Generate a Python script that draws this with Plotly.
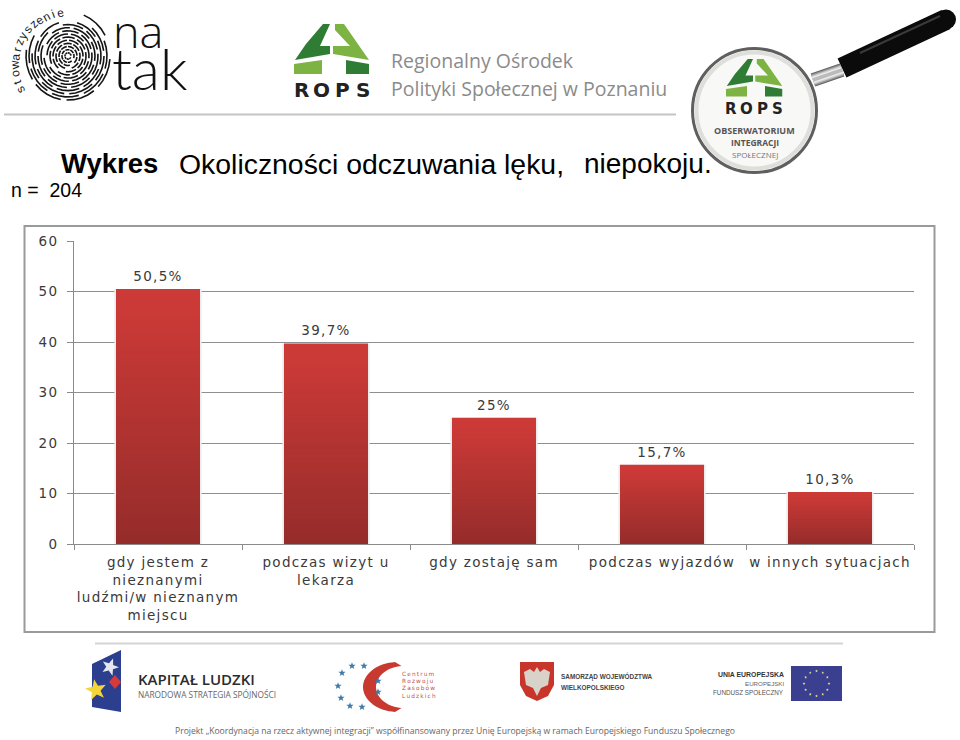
import math
import plotly.graph_objects as go

categories = ["gdy jestem z<br>nieznanymi<br>ludźmi/w nieznanym<br>miejscu", "podczas wizyt u<br>lekarza", "gdy zostaję sam", "podczas wyjazdów", "w innych sytuacjach"]
values = [50.5, 39.7, 25, 15.7, 10.3]
value_labels = ["50,5%", "39,7%", "25%", "15,7%", "10,3%"]
y_ticks = [0, 10, 20, 30, 40, 50, 60]

W, H = 960, 740
def px(x): return x / W
def py(y): return 1 - y / H

def lerp(a, b, t):
    return "#%02x%02x%02x" % tuple(round(a[i] + (b[i] - a[i]) * t) for i in range(3))

fig = go.Figure()
fig.add_bar(x=categories, y=values, width=0.52, marker=dict(color="#ececec", line=dict(width=0)),
            hoverinfo="skip", showlegend=False)
TOP, BOT = (204, 58, 55), (148, 44, 42)
N = 40
for k in range(N):
    frac = 1 - k / N
    t = min(1.0, max(0.0, (1 - frac - 0.05) / 0.95))
    fig.add_bar(x=categories, y=[v * frac for v in values], width=0.5,
                marker=dict(color=lerp(TOP, BOT, t), line=dict(width=0)),
                hoverinfo="skip", showlegend=False)
fig.add_scatter(x=categories, y=values, mode="markers+text", text=value_labels, textposition="top center",
                marker=dict(size=6, color="rgba(0,0,0,0)"), hoverinfo="skip", showlegend=False,
                textfont=dict(family="DejaVu Sans", size=13.5, color="#3a3a3a"))

fig.update_layout(
    width=W, height=H, margin=dict(l=0, r=0, t=0, b=0, autoexpand=False), paper_bgcolor="white", plot_bgcolor="white",
    barmode="overlay", showlegend=False,
    xaxis=dict(domain=[px(74), px(914)], anchor="y", type="category", range=[-0.5, 4.5],
               tickson="boundaries", ticks="outside", ticklen=5, tickcolor="#8a8a8a", showgrid=False,
               showline=True, linecolor="#8a8a8a", linewidth=1, tickangle=0, ticklabelstandoff=6,
               tickfont=dict(family="DejaVu Sans", size=13.5, color="#3a3a3a")),
    yaxis=dict(domain=[py(544), py(241)], anchor="x", range=[0, 60], tickvals=y_ticks, ticks="outside", ticklen=6,
               tickcolor="#8a8a8a", showgrid=True, gridcolor="#8f8f8f", gridwidth=1, showline=True,
               linecolor="#8a8a8a", zeroline=False, ticklabelstandoff=6,
               tickfont=dict(family="DejaVu Sans", size=13.5, color="#3a3a3a")),
)

shapes, ann = [], []
def path(pts, fill=None, line=None, lw=1, close=True, layer="above"):
    d = "M" + " L".join(f"{px(x):.5f},{py(y):.5f}" for x, y in pts) + (" Z" if close else "")
    shapes.append(dict(type="path", xref="paper", yref="paper", path=d, fillcolor=fill or "rgba(0,0,0,0)",
                       line=dict(color=line or "rgba(0,0,0,0)", width=lw if line else 0), layer=layer))
def rect(x0, y0, x1, y1, fill=None, line=None, lw=1):
    shapes.append(dict(type="rect", xref="paper", yref="paper", x0=px(x0), x1=px(x1), y0=py(y0), y1=py(y1),
                       fillcolor=fill or "rgba(0,0,0,0)", line=dict(color=line or "rgba(0,0,0,0)", width=lw if line else 0)))
def circ(cx, cy, r, fill=None, line=None, lw=1):
    shapes.append(dict(type="circle", xref="paper", yref="paper", x0=px(cx - r), x1=px(cx + r), y0=py(cy - r), y1=py(cy + r),
                       fillcolor=fill or "rgba(0,0,0,0)", line=dict(color=line or "rgba(0,0,0,0)", width=lw if line else 0)))
def seg(x0, y0, x1, y1, color, lw):
    shapes.append(dict(type="line", xref="paper", yref="paper", x0=px(x0), x1=px(x1), y0=py(y0), y1=py(y1),
                       line=dict(color=color, width=lw)))
def txt(x, y, s, size, color="black", family="Liberation Sans", anchor="left", angle=0, weight=None):
    f = dict(family=family, size=size, color=color)
    if weight: f["weight"] = weight
    ann.append(dict(xref="paper", yref="paper", x=px(x), y=py(y), text=s, showarrow=False, xanchor=anchor, yanchor="middle",
                    textangle=angle, font=f, align="center", borderpad=0, borderwidth=0))
def star(cx, cy, r, color, rot=-90):
    pts = []
    for i in range(10):
        a = math.radians(rot + 36 * i)
        q = r if i % 2 == 0 else r * 0.42
        pts.append((cx + q * math.cos(a), cy + q * math.sin(a)))
    path(pts, fill=color)

# frames and rules
rect(24.5, 226, 934.5, 632, line="#9a9a9a", lw=2)
seg(4, 114.5, 676, 114.5, "#c4c4c4", 2)
seg(95, 643.5, 843, 643.5, "#d4d4d4", 2)

# titles
txt(61, 164, "<b>Wykres</b>", 27.5)
txt(179, 164, "Okoliczności odczuwania lęku,", 28.4)
txt(584, 164, "niepokoju.", 28)
txt(11, 190, "n =  204", 19.5)

# fingerprint logo
for i in range(1, 15):
    r = i * 3.0
    for g in range(0, 330, 48):
        start = g + i * 26
        if i >= 12 and 180 <= (start % 360) <= 275:
            continue
        pts = [(68 + r * math.cos(math.radians(a)), 56 + r * 1.05 * math.sin(math.radians(a)))
               for a in range(start, start + 42, 10)]
        path(pts, line="#141414", lw=1.6, close=False)
word = "stowarzyszenie"
for i, ch in enumerate(word):
    a = 149 + i * 8.4
    r = 58 - i * 0.77
    ar = math.radians(a)
    txt(70 + r * math.cos(ar), 60 + r * math.sin(ar), ch, 12, "#222222", angle=a + 90, anchor="center")
txt(113, 30, "na", 45, "#111111", "Open Sans", weight=300)
txt(112, 68, "tak", 58, "#111111", "Lato", weight=300)

# ROPS logos
def rops(x, y, s, word_size):
    D, Lt = "#2f7d35", "#7cb342"
    P = lambda pts, c: path([(x + a * s, y + b * s) for a, b in pts], fill=c)
    P([(29, 0), (36, 0), (26, 22), (36, 22), (36, 30), (1, 36), (12, 20)], D)
    P([(41, 0), (50, 0), (75, 36), (39, 30), (39, 22), (56, 22), (41, 6)], Lt)
    P([(0, 40), (28, 36), (28, 50), (0, 50)], Lt)
    P([(52, 36), (75, 40), (75, 50), (52, 50)], D)
    for j, ch in enumerate("ROPS"):
        txt(x + (7 + j * 20.7) * s, y + 66 * s, f"<b>{ch}</b>", word_size, "#222222", "DejaVu Sans", "center")

rops(294, 24, 1.0, 20)
txt(391, 60, "Regionalny Ośrodek", 19.5, "#8b8b8b", "Open Sans")
txt(391, 88, "Polityki Społecznej w Poznaniu", 19.5, "#8b8b8b", "Open Sans")

# magnifier
for i, c in enumerate(["#666666", "#999999", "#cccccc", "#ededed", "#bbbbbb"]):
    seg(813, 80, 842, 70, c, 14 - i * 2.6)
seg(842, 68, 946, 19.5, "#0b0b0b", 21)
circ(946, 19.5, 10, fill="#0b0b0b")
seg(860, 53, 940, 16, "#3a3a3a", 2)
circ(754.5, 110.5, 62, fill="#f8f8f6", line="#5f5f5f", lw=3)
circ(754.5, 110.5, 58, line="#dededa", lw=4)
rops(726, 59, 0.75, 15)
txt(754.5, 130, "<b>OBSERWATORIUM</b>", 9, "#555555", "Open Sans", "center")
txt(754.5, 143, "<b>INTEGRACJI</b>", 8.5, "#555555", "Open Sans", "center")
txt(754.5, 155, "SPOŁECZNEJ", 8, "#777777", "Open Sans", "center")

# Kapitał Ludzki
path([(92, 664), (121, 650), (121, 712), (92, 707)], fill="#2b3f8e")
star(96, 690, 11, "#f2d43b", rot=-100)
star(110, 667, 9, "#e6e6ee", rot=-70)
path([(115, 675), (121, 682), (115, 689), (109, 682)], fill="#d63a3a")
txt(138, 679, "KAPITAŁ LUDZKI", 15, "#2b2b2b", "Open Sans", weight=600)
txt(138, 694, "NARODOWA STRATEGIA SPÓJNOŚCI", 8.3, "#666666", "Open Sans")

# C logo
arc = []
for d in range(95, 266, 5):
    a = math.radians(d)
    arc.append((398 + 35 * math.cos(a), 687 + 25 * math.sin(a)))
for d in range(265, 94, -5):
    a = math.radians(d)
    arc.append((404 + 28 * math.cos(a), 687 + 21 * math.sin(a)))
path(arc, fill="#c8392f")
for cx, cy in [(342, 673), (352, 666), (364, 666), (338, 686), (341, 698), (350, 706), (362, 707), (378, 681), (378, 692)]:
    star(cx, cy, 3.8, "#3f7aa8")
for j, line_ in enumerate(["Centrum", "Rozwoju", "Zasobów", "Ludzkich"]):
    txt(402, 674 + j * 7.2, "\u2009".join(line_), 5.8, "#c0504d", "DejaVu Sans")

# Wielkopolska
path([(520, 662), (554, 662), (554, 685), (548, 696), (537, 701), (526, 696), (520, 685)], fill="#c8352b")
path([(537, 667), (540, 672), (544, 669), (550, 672), (548, 685), (541, 688), (537, 696), (533, 688), (526, 685), (524, 672), (530, 669), (534, 672)], fill="#d8d2c8")
txt(561, 676, "<b>SAMORZĄD WOJEWÓDZTWA</b>", 6.4, "#444444", "Liberation Sans")
txt(561, 687, "<b>WIELKOPOLSKIEGO</b>", 6.4, "#444444", "Liberation Sans")

# EU
rect(791, 666, 842, 701, fill="#3b3f8f")
for i in range(12):
    a = math.radians(i * 30)
    star(816.5 + 12.5 * math.cos(a), 683.5 + 12.5 * math.sin(a), 1.5, "#e8e28a")
txt(784, 674, "<b>UNIA EUROPEJSKA</b>", 6.9, "#333333", "Liberation Sans", "right")
txt(784, 683, "EUROPEJSKI", 6.2, "#666666", "Liberation Sans", "right")
txt(784, 692, "FUNDUSZ SPOŁECZNY", 6.3, "#555555", "Liberation Sans", "right")

# footer
txt(175, 731, "Projekt „Koordynacja na rzecz aktywnej integracji” współfinansowany przez Unię Europejską w ramach Europejskiego Funduszu Społecznego", 8.6, "#666666", "Open Sans")

fig.update_layout(shapes=shapes, annotations=ann)
css = "var s=document.createElement('style');s.textContent='.xtick text,.ytick text,.textpoint text{letter-spacing:1.3px}';document.head.appendChild(s);document.body.style.margin='0';document.body.style.overflow='hidden';"
fig.write_html("out.html", config={"displayModeBar": False}, post_script=css)
